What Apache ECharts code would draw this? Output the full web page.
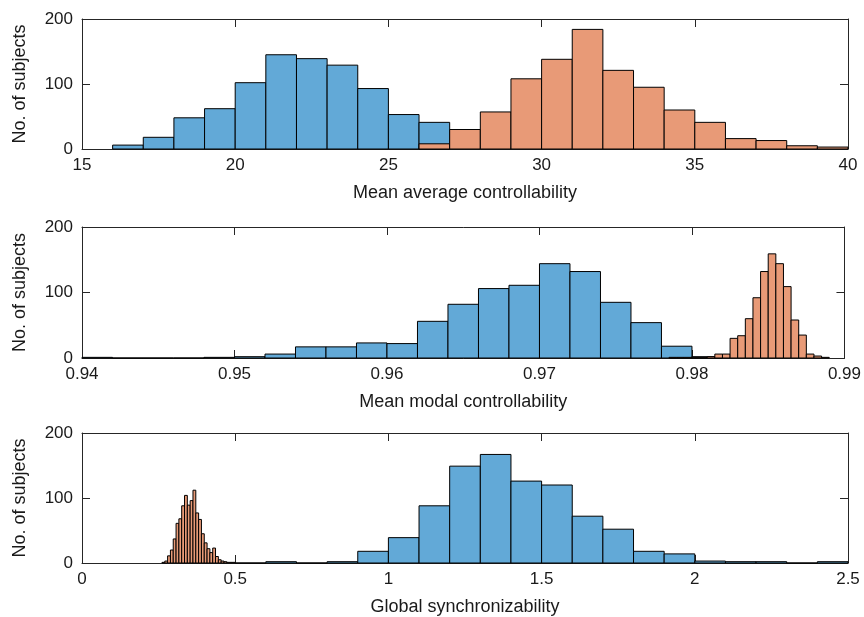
<!DOCTYPE html>
<html>
<head>
<meta charset="utf-8">
<script src="https://cdn.jsdelivr.net/npm/echarts@6/dist/echarts.min.js"></script>
<style>
html,body{margin:0;padding:0;background:#fff;}
#chart{width:864px;height:617px;}
</style>
</head>
<body>
<div id="chart"></div>
<script>
// ---- Data (histogram counts; bins defined by start + width) ----
// Panel 1: Mean average controllability
var avgBlueStart = 16, avgBlueWidth = 1;
var avgBlueCounts = [6, 18, 48, 62, 102, 145, 139, 129, 93, 53, 41];
var avgOrangeStart = 26, avgOrangeWidth = 1;
var avgOrangeCounts = [8, 30, 57, 108, 138, 184, 121, 95, 60, 41, 16, 13, 5, 3];

// Panel 2: Mean modal controllability
var modBlueStart = 0.940, modBlueWidth = 0.002;
var modBlueCounts = [1, 0, 0, 0, 1, 2, 6, 17, 17, 23, 22, 56, 82, 106, 111, 144, 132, 85, 54, 18, 2];
var modOrangeStart = 0.9785, modOrangeWidth = 0.0005;
var modOrangeCounts = [1, 1, 1, 1, 1, 2, 6, 6, 30, 34, 60, 92, 132, 159, 144, 109, 58, 35, 6, 3, 1];

// Panel 3: Global synchronizability
var syncBlueStart = 0.5, syncBlueWidth = 0.1;
var syncBlueCounts = [0, 2, 0, 2, 18, 39, 88, 149, 167, 126, 120, 72, 52, 18, 14, 3, 2, 2, 0, 2];
var syncOrangeStart = 0.261, syncOrangeWidth = 0.0092;
var syncOrangeCounts = [1, 3, 11, 20, 37, 61, 68, 88, 104, 89, 96, 112, 77, 67, 45, 31, 22, 16, 23, 10, 5, 3, 2, 1, 1, 1];

// Axis settings (ticks)
var xNames = ['Mean average controllability', 'Mean modal controllability', 'Global synchronizability'];
var xMins = [15, 0.94, 0];
var xMaxs = [40, 0.99, 2.5];
var xIntervals = [5, 0.01, 0.5];
var yTicks = [0, 100, 200];
var yName = 'No. of subjects';

var BLUE = '#62a9d7', ORANGE = '#e89a77', TXT = '#1a1a1a', AX = '#262626';
var FONT = 'Liberation Sans, Arial, Helvetica, sans-serif';

function bins(start, width, counts) {
  return counts.map(function (c, i) {
    var a = +(start + i * width).toFixed(6);
    var b = +(start + (i + 1) * width).toFixed(6);
    return [a, b, c];
  });
}

function makeRender(color) {
  return function (params, api) {
    var p0 = api.coord([api.value(0), 0]);
    var p1 = api.coord([api.value(1), api.value(2)]);
    return {
      type: 'rect',
      shape: { x: p0[0], y: p1[1], width: p1[0] - p0[0], height: p0[1] - p1[1] },
      style: { fill: color, stroke: '#000', lineWidth: 1 }
    };
  };
}

var grids = [
  { left: 82, right: 16, top: 19, height: 130 },
  { left: 82, right: 16, top: 227, height: 131 },
  { left: 82, right: 16, top: 433, height: 130 }
];

var xAxes = [], yAxes = [], series = [];
var panelData = [
  [bins(avgBlueStart, avgBlueWidth, avgBlueCounts), bins(avgOrangeStart, avgOrangeWidth, avgOrangeCounts)],
  [bins(modBlueStart, modBlueWidth, modBlueCounts), bins(modOrangeStart, modOrangeWidth, modOrangeCounts)],
  [bins(syncBlueStart, syncBlueWidth, syncBlueCounts), bins(syncOrangeStart, syncOrangeWidth, syncOrangeCounts)]
];

for (var i = 0; i < 3; i++) {
  var common = {
    gridIndex: i, type: 'value', min: xMins[i], max: xMaxs[i], interval: xIntervals[i],
    splitLine: { show: false },
    axisLine: { show: true, onZero: false, lineStyle: { color: AX, width: 1 } },
    axisTick: { show: true, inside: true, length: 8, lineStyle: { color: AX } }
  };
  xAxes.push(Object.assign({}, common, {
    position: 'bottom',
    name: xNames[i], nameLocation: 'middle', nameGap: 35,
    nameTextStyle: { fontSize: 18, color: TXT, fontFamily: FONT },
    axisLabel: {
      show: true, fontSize: 17, color: TXT, fontFamily: FONT, margin: 8,
      formatter: function (v) { return String(+v.toFixed(4)); }
    }
  }));
  xAxes.push(Object.assign({}, common, { position: 'top', axisLabel: { show: false } }));

  var ycommon = {
    gridIndex: i, type: 'value', min: yTicks[0], max: yTicks[yTicks.length - 1], interval: yTicks[1] - yTicks[0],
    splitLine: { show: false },
    axisLine: { show: true, onZero: false, lineStyle: { color: AX, width: 1 } },
    axisTick: { show: true, inside: true, length: 8, lineStyle: { color: AX } }
  };
  yAxes.push(Object.assign({}, ycommon, {
    position: 'left',
    name: yName, nameLocation: 'middle', nameGap: 53, nameRotate: 90,
    nameTextStyle: { fontSize: 18, color: TXT, fontFamily: FONT },
    axisLabel: { show: true, fontSize: 17, color: TXT, fontFamily: FONT, margin: 9 }
  }));
  yAxes.push(Object.assign({}, ycommon, { position: 'right', axisLabel: { show: false } }));

  series.push({
    type: 'custom', xAxisIndex: 2 * i, yAxisIndex: 2 * i,
    renderItem: makeRender(BLUE), encode: { x: [0, 1], y: 2 },
    data: panelData[i][0], z: 2, silent: true
  });
  series.push({
    type: 'custom', xAxisIndex: 2 * i, yAxisIndex: 2 * i,
    renderItem: makeRender(ORANGE), encode: { x: [0, 1], y: 2 },
    data: panelData[i][1], z: 3, silent: true
  });
}

var chart = echarts.init(document.getElementById('chart'), null, { renderer: 'canvas' });
chart.setOption({
  animation: false,
  backgroundColor: '#fff',
  textStyle: { fontFamily: FONT },
  grid: grids,
  xAxis: xAxes,
  yAxis: yAxes,
  series: series
});
</script>
</body>
</html>
